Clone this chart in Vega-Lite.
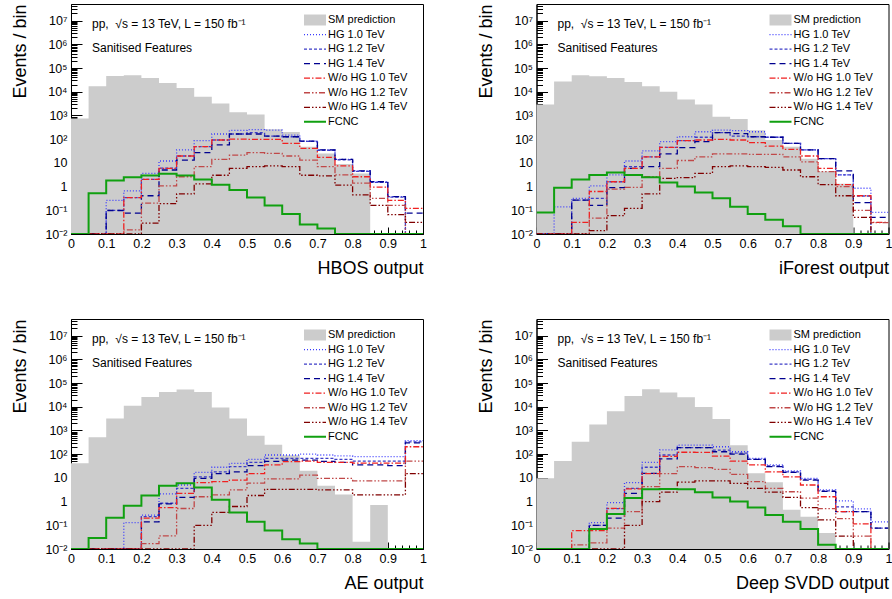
{
"$schema":"https://vega.github.io/schema/vega-lite/v6.json",
"background":"white",
"padding":{"left":11,"top":3,"right":0,"bottom":0},
"columns":2,
"spacing":{"row":85,"column":113.5},
"bounds":"flush",
"resolve":{"scale":{"color":"independent","strokeDash":"independent"},"legend":{"color":"independent"}},
"config":{
 "font":"Liberation Sans",
 "view":{"stroke":"black","strokeWidth":1},
 "axis":{"grid":false,"domainColor":"black","tickColor":"black","labelColor":"black","titleColor":"black","labelFont":"Liberation Sans","titleFont":"Liberation Sans","titleFontWeight":"normal","titleFontSize":18,"labelFontSize":12.5,"labelFlush":false,"labelOverlap":false,"labelBound":false,"domainWidth":1,"tickWidth":1},
 "legend":{"orient":"none","legendX":238.5,"legendY":10.5,"padding":0,"labelFont":"Liberation Sans","labelFontSize":11,"labelColor":"black","symbolSize":121,"labelOffset":7.5,"rowPadding":2.55},
 "title":{"anchor":"start","frame":"group","offset":-50.7,"dx":21,"font":"Liberation Sans","fontSize":12,"fontWeight":"normal","color":"black","subtitleFont":"Liberation Sans","subtitleFontSize":12,"subtitleColor":"black","subtitlePadding":11.7}
},
"datasets":{
"hbos":[
{"s":"sm","x":0,"v":750},{"s":"sm","x":0.05,"v":17000},{"s":"sm","x":0.1,"v":46000},{"s":"sm","x":0.15,"v":50000},{"s":"sm","x":0.2,"v":38000},{"s":"sm","x":0.25,"v":23500},{"s":"sm","x":0.3,"v":14500},{"s":"sm","x":0.35,"v":6100},{"s":"sm","x":0.4,"v":3200},{"s":"sm","x":0.45,"v":1350},{"s":"sm","x":0.5,"v":1100},{"s":"sm","x":0.55,"v":260},{"s":"sm","x":0.6,"v":200},{"s":"sm","x":0.65,"v":48},{"s":"sm","x":0.7,"v":25},{"s":"sm","x":0.75,"v":9},{"s":"sm","x":0.8,"v":3.6},{"s":"sm","x":0.85,"v":3.6},
{"s":"h10","x":0,"v":0.01},{"s":"h10","x":0.05,"v":0.01},{"s":"h10","x":0.1,"v":0.26},{"s":"h10","x":0.15,"v":0.66},{"s":"h10","x":0.2,"v":3.6},{"s":"h10","x":0.25,"v":12},{"s":"h10","x":0.3,"v":35},{"s":"h10","x":0.35,"v":87},{"s":"h10","x":0.4,"v":165},{"s":"h10","x":0.45,"v":235},{"s":"h10","x":0.5,"v":250},{"s":"h10","x":0.55,"v":240},{"s":"h10","x":0.6,"v":148},{"s":"h10","x":0.65,"v":83},{"s":"h10","x":0.7,"v":35},{"s":"h10","x":0.75,"v":14},{"s":"h10","x":0.8,"v":4.6},{"s":"h10","x":0.85,"v":1.6},{"s":"h10","x":0.9,"v":0.38},{"s":"h10","x":0.95,"v":0.01},{"s":"h10","x":1,"v":0.01},
{"s":"h12","x":0,"v":0.01},{"s":"h12","x":0.05,"v":0.01},{"s":"h12","x":0.1,"v":0.1},{"s":"h12","x":0.15,"v":0.34},{"s":"h12","x":0.2,"v":2.0},{"s":"h12","x":0.25,"v":6.0},{"s":"h12","x":0.3,"v":19.5},{"s":"h12","x":0.35,"v":48},{"s":"h12","x":0.4,"v":92},{"s":"h12","x":0.45,"v":165},{"s":"h12","x":0.5,"v":187},{"s":"h12","x":0.55,"v":134},{"s":"h12","x":0.6,"v":126},{"s":"h12","x":0.65,"v":80},{"s":"h12","x":0.7,"v":34},{"s":"h12","x":0.75,"v":13.5},{"s":"h12","x":0.8,"v":4.4},{"s":"h12","x":0.85,"v":1.5},{"s":"h12","x":0.9,"v":0.36},{"s":"h12","x":0.95,"v":0.01},{"s":"h12","x":1,"v":0.01},
{"s":"h14","x":0,"v":0.01},{"s":"h14","x":0.05,"v":0.01},{"s":"h14","x":0.1,"v":0.098},{"s":"h14","x":0.15,"v":0.076},{"s":"h14","x":0.2,"v":0.41},{"s":"h14","x":0.25,"v":5.0},{"s":"h14","x":0.3,"v":13},{"s":"h14","x":0.35,"v":27},{"s":"h14","x":0.4,"v":57},{"s":"h14","x":0.45,"v":165},{"s":"h14","x":0.5,"v":165},{"s":"h14","x":0.55,"v":134},{"s":"h14","x":0.6,"v":126},{"s":"h14","x":0.65,"v":83},{"s":"h14","x":0.7,"v":35},{"s":"h14","x":0.75,"v":14},{"s":"h14","x":0.8,"v":4.6},{"s":"h14","x":0.85,"v":1.6},{"s":"h14","x":0.9,"v":0.38},{"s":"h14","x":0.95,"v":0.076},{"s":"h14","x":1,"v":0.076},
{"s":"w10","x":0,"v":0.01},{"s":"w10","x":0.05,"v":0.01},{"s":"w10","x":0.1,"v":0.01},{"s":"w10","x":0.15,"v":0.34},{"s":"w10","x":0.2,"v":2.0},{"s":"w10","x":0.25,"v":5.9},{"s":"w10","x":0.3,"v":19.5},{"s":"w10","x":0.35,"v":48},{"s":"w10","x":0.4,"v":92},{"s":"w10","x":0.45,"v":100},{"s":"w10","x":0.5,"v":98},{"s":"w10","x":0.55,"v":98},{"s":"w10","x":0.6,"v":66},{"s":"w10","x":0.65,"v":41},{"s":"w10","x":0.7,"v":17},{"s":"w10","x":0.75,"v":7.4},{"s":"w10","x":0.8,"v":2.6},{"s":"w10","x":0.85,"v":0.94},{"s":"w10","x":0.9,"v":0.26},{"s":"w10","x":0.95,"v":0.12},{"s":"w10","x":1,"v":0.12},
{"s":"w12","x":0,"v":0.01},{"s":"w12","x":0.05,"v":0.01},{"s":"w12","x":0.1,"v":0.01},{"s":"w12","x":0.15,"v":0.015},{"s":"w12","x":0.2,"v":0.2},{"s":"w12","x":0.25,"v":1.07},{"s":"w12","x":0.3,"v":2.6},{"s":"w12","x":0.35,"v":7},{"s":"w12","x":0.4,"v":14},{"s":"w12","x":0.45,"v":21},{"s":"w12","x":0.5,"v":27},{"s":"w12","x":0.55,"v":25},{"s":"w12","x":0.6,"v":19.5},{"s":"w12","x":0.65,"v":13},{"s":"w12","x":0.7,"v":7},{"s":"w12","x":0.75,"v":3.1},{"s":"w12","x":0.8,"v":1.4},{"s":"w12","x":0.85,"v":0.32},{"s":"w12","x":0.9,"v":0.16},{"s":"w12","x":0.95,"v":0.01},{"s":"w12","x":1,"v":0.01},
{"s":"w14","x":0,"v":0.01},{"s":"w14","x":0.05,"v":0.01},{"s":"w14","x":0.1,"v":0.01},{"s":"w14","x":0.15,"v":0.01},{"s":"w14","x":0.2,"v":0.029},{"s":"w14","x":0.25,"v":0.19},{"s":"w14","x":0.3,"v":0.49},{"s":"w14","x":0.35,"v":1.3},{"s":"w14","x":0.4,"v":3.0},{"s":"w14","x":0.45,"v":5.9},{"s":"w14","x":0.5,"v":7},{"s":"w14","x":0.55,"v":7.4},{"s":"w14","x":0.6,"v":7},{"s":"w14","x":0.65,"v":3.0},{"s":"w14","x":0.7,"v":2.8},{"s":"w14","x":0.75,"v":1.15},{"s":"w14","x":0.8,"v":0.45},{"s":"w14","x":0.85,"v":0.16},{"s":"w14","x":0.9,"v":0.065},{"s":"w14","x":0.95,"v":0.031},{"s":"w14","x":1,"v":0.031},
{"s":"f","x":0,"v":0.01},{"s":"f","x":0.05,"v":0.52},{"s":"f","x":0.1,"v":1.8},{"s":"f","x":0.15,"v":2.5},{"s":"f","x":0.2,"v":2.9},{"s":"f","x":0.25,"v":3.5},{"s":"f","x":0.3,"v":2.9},{"s":"f","x":0.35,"v":2.0},{"s":"f","x":0.4,"v":1.2},{"s":"f","x":0.45,"v":0.72},{"s":"f","x":0.5,"v":0.35},{"s":"f","x":0.55,"v":0.16},{"s":"f","x":0.6,"v":0.07},{"s":"f","x":0.65,"v":0.025},{"s":"f","x":0.7,"v":0.017},{"s":"f","x":0.75,"v":0.01},{"s":"f","x":0.8,"v":0.01},{"s":"f","x":0.85,"v":0.01},{"s":"f","x":0.9,"v":0.01},{"s":"f","x":0.95,"v":0.01},{"s":"f","x":1,"v":0.01}
],
"iforest":[
{"s":"sm","x":0,"v":2900},{"s":"sm","x":0.05,"v":27000},{"s":"sm","x":0.1,"v":49000},{"s":"sm","x":0.15,"v":45000},{"s":"sm","x":0.2,"v":38000},{"s":"sm","x":0.25,"v":26000},{"s":"sm","x":0.3,"v":17000},{"s":"sm","x":0.35,"v":10000},{"s":"sm","x":0.4,"v":4700},{"s":"sm","x":0.45,"v":2900},{"s":"sm","x":0.5,"v":870},{"s":"sm","x":0.55,"v":700},{"s":"sm","x":0.6,"v":240},{"s":"sm","x":0.65,"v":91},{"s":"sm","x":0.7,"v":48},{"s":"sm","x":0.75,"v":15},{"s":"sm","x":0.8,"v":4.3},{"s":"sm","x":0.85,"v":1.3},{"s":"sm","x":0.9,"v":1.3},
{"s":"h10","x":0,"v":0.01},{"s":"h10","x":0.05,"v":0.14},{"s":"h10","x":0.1,"v":0.32},{"s":"h10","x":0.15,"v":1.07},{"s":"h10","x":0.2,"v":3.1},{"s":"h10","x":0.25,"v":12},{"s":"h10","x":0.3,"v":32},{"s":"h10","x":0.35,"v":78},{"s":"h10","x":0.4,"v":126},{"s":"h10","x":0.45,"v":205},{"s":"h10","x":0.5,"v":240},{"s":"h10","x":0.55,"v":230},{"s":"h10","x":0.6,"v":205},{"s":"h10","x":0.65,"v":120},{"s":"h10","x":0.7,"v":66},{"s":"h10","x":0.75,"v":35},{"s":"h10","x":0.8,"v":15},{"s":"h10","x":0.85,"v":3.1},{"s":"h10","x":0.9,"v":0.85},{"s":"h10","x":0.95,"v":0.081},{"s":"h10","x":1,"v":0.081},
{"s":"h12","x":0,"v":0.01},{"s":"h12","x":0.05,"v":0.01},{"s":"h12","x":0.1,"v":0.27},{"s":"h12","x":0.15,"v":0.32},{"s":"h12","x":0.2,"v":1.6},{"s":"h12","x":0.25,"v":7},{"s":"h12","x":0.3,"v":18},{"s":"h12","x":0.35,"v":45},{"s":"h12","x":0.4,"v":87},{"s":"h12","x":0.45,"v":120},{"s":"h12","x":0.5,"v":187},{"s":"h12","x":0.55,"v":134},{"s":"h12","x":0.6,"v":126},{"s":"h12","x":0.65,"v":120},{"s":"h12","x":0.7,"v":66},{"s":"h12","x":0.75,"v":35},{"s":"h12","x":0.8,"v":15},{"s":"h12","x":0.85,"v":3.1},{"s":"h12","x":0.9,"v":0.4},{"s":"h12","x":0.95,"v":0.01},{"s":"h12","x":1,"v":0.01},
{"s":"h14","x":0,"v":0.01},{"s":"h14","x":0.05,"v":0.01},{"s":"h14","x":0.1,"v":0.27},{"s":"h14","x":0.15,"v":0.16},{"s":"h14","x":0.2,"v":0.91},{"s":"h14","x":0.25,"v":5.9},{"s":"h14","x":0.3,"v":7},{"s":"h14","x":0.35,"v":24},{"s":"h14","x":0.4,"v":44},{"s":"h14","x":0.45,"v":78},{"s":"h14","x":0.5,"v":187},{"s":"h14","x":0.55,"v":170},{"s":"h14","x":0.6,"v":126},{"s":"h14","x":0.65,"v":120},{"s":"h14","x":0.7,"v":66},{"s":"h14","x":0.75,"v":35},{"s":"h14","x":0.8,"v":15},{"s":"h14","x":0.85,"v":4.6},{"s":"h14","x":0.9,"v":0.21},{"s":"h14","x":0.95,"v":0.05},{"s":"h14","x":1,"v":0.05},
{"s":"w10","x":0,"v":0.01},{"s":"w10","x":0.05,"v":0.01},{"s":"w10","x":0.1,"v":0.031},{"s":"w10","x":0.15,"v":0.62},{"s":"w10","x":0.2,"v":1.6},{"s":"w10","x":0.25,"v":5.9},{"s":"w10","x":0.3,"v":18},{"s":"w10","x":0.35,"v":45},{"s":"w10","x":0.4,"v":87},{"s":"w10","x":0.45,"v":92},{"s":"w10","x":0.5,"v":98},{"s":"w10","x":0.55,"v":92},{"s":"w10","x":0.6,"v":71},{"s":"w10","x":0.65,"v":51},{"s":"w10","x":0.7,"v":37},{"s":"w10","x":0.75,"v":19.5},{"s":"w10","x":0.8,"v":5.9},{"s":"w10","x":0.85,"v":1.2},{"s":"w10","x":0.9,"v":0.41},{"s":"w10","x":0.95,"v":0.031},{"s":"w10","x":1,"v":0.031},
{"s":"w12","x":0,"v":0.01},{"s":"w12","x":0.05,"v":0.01},{"s":"w12","x":0.1,"v":0.01},{"s":"w12","x":0.15,"v":0.047},{"s":"w12","x":0.2,"v":0.78},{"s":"w12","x":0.25,"v":0.93},{"s":"w12","x":0.3,"v":2.6},{"s":"w12","x":0.35,"v":5.9},{"s":"w12","x":0.4,"v":12.6},{"s":"w12","x":0.45,"v":18},{"s":"w12","x":0.5,"v":24},{"s":"w12","x":0.55,"v":24},{"s":"w12","x":0.6,"v":23},{"s":"w12","x":0.65,"v":23},{"s":"w12","x":0.7,"v":18},{"s":"w12","x":0.75,"v":11},{"s":"w12","x":0.8,"v":4.3},{"s":"w12","x":0.85,"v":1.0},{"s":"w12","x":0.9,"v":0.1},{"s":"w12","x":0.95,"v":0.03},{"s":"w12","x":1,"v":0.03},
{"s":"w14","x":0,"v":0.01},{"s":"w14","x":0.05,"v":0.01},{"s":"w14","x":0.1,"v":0.01},{"s":"w14","x":0.15,"v":0.014},{"s":"w14","x":0.2,"v":0.059},{"s":"w14","x":0.25,"v":0.12},{"s":"w14","x":0.3,"v":0.49},{"s":"w14","x":0.35,"v":2.2},{"s":"w14","x":0.4,"v":2.4},{"s":"w14","x":0.45,"v":3.6},{"s":"w14","x":0.5,"v":7},{"s":"w14","x":0.55,"v":7.4},{"s":"w14","x":0.6,"v":7},{"s":"w14","x":0.65,"v":6.5},{"s":"w14","x":0.7,"v":5},{"s":"w14","x":0.75,"v":2.6},{"s":"w14","x":0.8,"v":1.2},{"s":"w14","x":0.85,"v":0.41},{"s":"w14","x":0.9,"v":0.05},{"s":"w14","x":0.95,"v":0.01},{"s":"w14","x":1,"v":0.01},
{"s":"f","x":0,"v":0.081},{"s":"f","x":0.05,"v":0.9},{"s":"f","x":0.1,"v":2.0},{"s":"f","x":0.15,"v":3.1},{"s":"f","x":0.2,"v":3.9},{"s":"f","x":0.25,"v":3.1},{"s":"f","x":0.3,"v":2.5},{"s":"f","x":0.35,"v":1.5},{"s":"f","x":0.4,"v":1.0},{"s":"f","x":0.45,"v":0.56},{"s":"f","x":0.5,"v":0.32},{"s":"f","x":0.55,"v":0.14},{"s":"f","x":0.6,"v":0.07},{"s":"f","x":0.65,"v":0.04},{"s":"f","x":0.7,"v":0.021},{"s":"f","x":0.75,"v":0.01},{"s":"f","x":0.8,"v":0.01},{"s":"f","x":0.85,"v":0.01},{"s":"f","x":0.9,"v":0.01},{"s":"f","x":0.95,"v":0.01},{"s":"f","x":1,"v":0.01}
],
"ae":[
{"s":"sm","x":0,"v":41},{"s":"sm","x":0.05,"v":510},{"s":"sm","x":0.1,"v":3200},{"s":"sm","x":0.15,"v":11000},{"s":"sm","x":0.2,"v":26000},{"s":"sm","x":0.25,"v":42000},{"s":"sm","x":0.3,"v":53000},{"s":"sm","x":0.35,"v":42000},{"s":"sm","x":0.4,"v":9300},{"s":"sm","x":0.45,"v":3200},{"s":"sm","x":0.5,"v":600},{"s":"sm","x":0.55,"v":250},{"s":"sm","x":0.6,"v":90},{"s":"sm","x":0.65,"v":20},{"s":"sm","x":0.7,"v":4.6},{"s":"sm","x":0.75,"v":2.0},{"s":"sm","x":0.8,"v":0.02},{"s":"sm","x":0.85,"v":0.72},{"s":"sm","x":0.9,"v":0.72},
{"s":"h10","x":0,"v":0.01},{"s":"h10","x":0.05,"v":0.01},{"s":"h10","x":0.1,"v":0.01},{"s":"h10","x":0.15,"v":0.13},{"s":"h10","x":0.2,"v":0.27},{"s":"h10","x":0.25,"v":2.1},{"s":"h10","x":0.3,"v":5.0},{"s":"h10","x":0.35,"v":17},{"s":"h10","x":0.4,"v":28},{"s":"h10","x":0.45,"v":41},{"s":"h10","x":0.5,"v":60},{"s":"h10","x":0.55,"v":92},{"s":"h10","x":0.6,"v":92},{"s":"h10","x":0.65,"v":100},{"s":"h10","x":0.7,"v":92},{"s":"h10","x":0.75,"v":85},{"s":"h10","x":0.8,"v":78},{"s":"h10","x":0.85,"v":78},{"s":"h10","x":0.9,"v":78},{"s":"h10","x":0.95,"v":370},{"s":"h10","x":1,"v":370},
{"s":"h12","x":0,"v":0.01},{"s":"h12","x":0.05,"v":0.01},{"s":"h12","x":0.1,"v":0.01},{"s":"h12","x":0.15,"v":0.01},{"s":"h12","x":0.2,"v":0.23},{"s":"h12","x":0.25,"v":0.85},{"s":"h12","x":0.3,"v":3.6},{"s":"h12","x":0.35,"v":11},{"s":"h12","x":0.4,"v":18},{"s":"h12","x":0.45,"v":30},{"s":"h12","x":0.5,"v":45},{"s":"h12","x":0.55,"v":66},{"s":"h12","x":0.6,"v":66},{"s":"h12","x":0.65,"v":66},{"s":"h12","x":0.7,"v":66},{"s":"h12","x":0.75,"v":60},{"s":"h12","x":0.8,"v":51},{"s":"h12","x":0.85,"v":51},{"s":"h12","x":0.9,"v":51},{"s":"h12","x":0.95,"v":330},{"s":"h12","x":1,"v":330},
{"s":"h14","x":0,"v":0.01},{"s":"h14","x":0.05,"v":0.01},{"s":"h14","x":0.1,"v":0.01},{"s":"h14","x":0.15,"v":0.01},{"s":"h14","x":0.2,"v":0.14},{"s":"h14","x":0.25,"v":0.8},{"s":"h14","x":0.3,"v":1.5},{"s":"h14","x":0.35,"v":9.5},{"s":"h14","x":0.4,"v":15},{"s":"h14","x":0.45,"v":18},{"s":"h14","x":0.5,"v":33},{"s":"h14","x":0.55,"v":50},{"s":"h14","x":0.6,"v":56},{"s":"h14","x":0.65,"v":56},{"s":"h14","x":0.7,"v":50},{"s":"h14","x":0.75,"v":45},{"s":"h14","x":0.8,"v":35},{"s":"h14","x":0.85,"v":35},{"s":"h14","x":0.9,"v":33},{"s":"h14","x":0.95,"v":300},{"s":"h14","x":1,"v":300},
{"s":"w10","x":0,"v":0.01},{"s":"w10","x":0.05,"v":0.01},{"s":"w10","x":0.1,"v":0.01},{"s":"w10","x":0.15,"v":0.01},{"s":"w10","x":0.2,"v":0.2},{"s":"w10","x":0.25,"v":0.56},{"s":"w10","x":0.3,"v":2.2},{"s":"w10","x":0.35,"v":6.3},{"s":"w10","x":0.4,"v":6.9},{"s":"w10","x":0.45,"v":8.1},{"s":"w10","x":0.5,"v":15},{"s":"w10","x":0.55,"v":35},{"s":"w10","x":0.6,"v":48},{"s":"w10","x":0.65,"v":51},{"s":"w10","x":0.7,"v":45},{"s":"w10","x":0.75,"v":45},{"s":"w10","x":0.8,"v":42},{"s":"w10","x":0.85,"v":42},{"s":"w10","x":0.9,"v":42},{"s":"w10","x":0.95,"v":205},{"s":"w10","x":1,"v":205},
{"s":"w12","x":0,"v":0.01},{"s":"w12","x":0.05,"v":0.01},{"s":"w12","x":0.1,"v":0.01},{"s":"w12","x":0.15,"v":0.01},{"s":"w12","x":0.2,"v":0.017},{"s":"w12","x":0.25,"v":0.036},{"s":"w12","x":0.3,"v":0.51},{"s":"w12","x":0.35,"v":1.6},{"s":"w12","x":0.4,"v":1.9},{"s":"w12","x":0.45,"v":3.1},{"s":"w12","x":0.5,"v":6.0},{"s":"w12","x":0.55,"v":9.1},{"s":"w12","x":0.6,"v":9.1},{"s":"w12","x":0.65,"v":13},{"s":"w12","x":0.7,"v":9.6},{"s":"w12","x":0.75,"v":9.6},{"s":"w12","x":0.8,"v":7.4},{"s":"w12","x":0.85,"v":7.4},{"s":"w12","x":0.9,"v":7.4},{"s":"w12","x":0.95,"v":51},{"s":"w12","x":1,"v":51},
{"s":"w14","x":0,"v":0.01},{"s":"w14","x":0.05,"v":0.01},{"s":"w14","x":0.1,"v":0.01},{"s":"w14","x":0.15,"v":0.01},{"s":"w14","x":0.2,"v":0.01},{"s":"w14","x":0.25,"v":0.01},{"s":"w14","x":0.3,"v":0.01},{"s":"w14","x":0.35,"v":0.1},{"s":"w14","x":0.4,"v":0.35},{"s":"w14","x":0.45,"v":0.62},{"s":"w14","x":0.5,"v":1.8},{"s":"w14","x":0.55,"v":3.3},{"s":"w14","x":0.6,"v":3.3},{"s":"w14","x":0.65,"v":3.3},{"s":"w14","x":0.7,"v":3.1},{"s":"w14","x":0.75,"v":3.1},{"s":"w14","x":0.8,"v":1.9},{"s":"w14","x":0.85,"v":1.9},{"s":"w14","x":0.9,"v":1.9},{"s":"w14","x":0.95,"v":15},{"s":"w14","x":1,"v":15},
{"s":"f","x":0,"v":0.01},{"s":"f","x":0.05,"v":0.029},{"s":"f","x":0.1,"v":0.21},{"s":"f","x":0.15,"v":0.66},{"s":"f","x":0.2,"v":1.8},{"s":"f","x":0.25,"v":4.6},{"s":"f","x":0.3,"v":5.9},{"s":"f","x":0.35,"v":3.9},{"s":"f","x":0.4,"v":1.2},{"s":"f","x":0.45,"v":0.35},{"s":"f","x":0.5,"v":0.14},{"s":"f","x":0.55,"v":0.06},{"s":"f","x":0.6,"v":0.026},{"s":"f","x":0.65,"v":0.017},{"s":"f","x":0.7,"v":0.01},{"s":"f","x":0.75,"v":0.01},{"s":"f","x":0.8,"v":0.01},{"s":"f","x":0.85,"v":0.01},{"s":"f","x":0.9,"v":0.01},{"s":"f","x":0.95,"v":0.01},{"s":"f","x":1,"v":0.01}
],
"svdd":[
{"s":"sm","x":0,"v":9.6},{"s":"sm","x":0.05,"v":51},{"s":"sm","x":0.1,"v":330},{"s":"sm","x":0.15,"v":1800},{"s":"sm","x":0.2,"v":6500},{"s":"sm","x":0.25,"v":28500},{"s":"sm","x":0.3,"v":55000},{"s":"sm","x":0.35,"v":40000},{"s":"sm","x":0.4,"v":25000},{"s":"sm","x":0.45,"v":9800},{"s":"sm","x":0.5,"v":3000},{"s":"sm","x":0.55,"v":240},{"s":"sm","x":0.6,"v":15.6},{"s":"sm","x":0.65,"v":6.6},{"s":"sm","x":0.7,"v":0.45},{"s":"sm","x":0.75,"v":0.23},{"s":"sm","x":0.8,"v":0.047},{"s":"sm","x":0.85,"v":0.047},
{"s":"h10","x":0,"v":0.01},{"s":"h10","x":0.05,"v":0.01},{"s":"h10","x":0.1,"v":0.01},{"s":"h10","x":0.15,"v":0.13},{"s":"h10","x":0.2,"v":0.91},{"s":"h10","x":0.25,"v":6.3},{"s":"h10","x":0.3,"v":45},{"s":"h10","x":0.35,"v":150},{"s":"h10","x":0.4,"v":240},{"s":"h10","x":0.45,"v":240},{"s":"h10","x":0.5,"v":205},{"s":"h10","x":0.55,"v":126},{"s":"h10","x":0.6,"v":66},{"s":"h10","x":0.65,"v":35},{"s":"h10","x":0.7,"v":19.5},{"s":"h10","x":0.75,"v":9.6},{"s":"h10","x":0.8,"v":3.1},{"s":"h10","x":0.85,"v":1.07},{"s":"h10","x":0.9,"v":0.49},{"s":"h10","x":0.95,"v":0.14},{"s":"h10","x":1,"v":0.14},
{"s":"h12","x":0,"v":0.01},{"s":"h12","x":0.05,"v":0.01},{"s":"h12","x":0.1,"v":0.01},{"s":"h12","x":0.15,"v":0.1},{"s":"h12","x":0.2,"v":0.5},{"s":"h12","x":0.25,"v":3.6},{"s":"h12","x":0.3,"v":28},{"s":"h12","x":0.35,"v":92},{"s":"h12","x":0.4,"v":187},{"s":"h12","x":0.45,"v":187},{"s":"h12","x":0.5,"v":148},{"s":"h12","x":0.55,"v":110},{"s":"h12","x":0.6,"v":60},{"s":"h12","x":0.65,"v":32},{"s":"h12","x":0.7,"v":18},{"s":"h12","x":0.75,"v":8.7},{"s":"h12","x":0.8,"v":2.8},{"s":"h12","x":0.85,"v":0.6},{"s":"h12","x":0.9,"v":0.38},{"s":"h12","x":0.95,"v":0.076},{"s":"h12","x":1,"v":0.076},
{"s":"h14","x":0,"v":0.01},{"s":"h14","x":0.05,"v":0.01},{"s":"h14","x":0.1,"v":0.01},{"s":"h14","x":0.15,"v":0.1},{"s":"h14","x":0.2,"v":0.2},{"s":"h14","x":0.25,"v":2.2},{"s":"h14","x":0.3,"v":15.5},{"s":"h14","x":0.35,"v":63},{"s":"h14","x":0.4,"v":187},{"s":"h14","x":0.45,"v":187},{"s":"h14","x":0.5,"v":126},{"s":"h14","x":0.55,"v":100},{"s":"h14","x":0.6,"v":60},{"s":"h14","x":0.65,"v":30},{"s":"h14","x":0.7,"v":17},{"s":"h14","x":0.75,"v":8},{"s":"h14","x":0.8,"v":2.7},{"s":"h14","x":0.85,"v":0.38},{"s":"h14","x":0.9,"v":0.38},{"s":"h14","x":0.95,"v":0.076},{"s":"h14","x":1,"v":0.076},
{"s":"w10","x":0,"v":0.01},{"s":"w10","x":0.05,"v":0.01},{"s":"w10","x":0.1,"v":0.059},{"s":"w10","x":0.15,"v":0.059},{"s":"w10","x":0.2,"v":0.52},{"s":"w10","x":0.25,"v":3.4},{"s":"w10","x":0.3,"v":15},{"s":"w10","x":0.35,"v":80},{"s":"w10","x":0.4,"v":120},{"s":"w10","x":0.45,"v":118},{"s":"w10","x":0.5,"v":83},{"s":"w10","x":0.55,"v":51},{"s":"w10","x":0.6,"v":35},{"s":"w10","x":0.65,"v":18},{"s":"w10","x":0.7,"v":11},{"s":"w10","x":0.75,"v":5},{"s":"w10","x":0.8,"v":1.6},{"s":"w10","x":0.85,"v":0.38},{"s":"w10","x":0.9,"v":0.115},{"s":"w10","x":0.95,"v":0.01},{"s":"w10","x":1,"v":0.01},
{"s":"w12","x":0,"v":0.01},{"s":"w12","x":0.05,"v":0.01},{"s":"w12","x":0.1,"v":0.015},{"s":"w12","x":0.15,"v":0.018},{"s":"w12","x":0.2,"v":0.076},{"s":"w12","x":0.25,"v":0.38},{"s":"w12","x":0.3,"v":4.3},{"s":"w12","x":0.35,"v":15},{"s":"w12","x":0.4,"v":30},{"s":"w12","x":0.45,"v":27},{"s":"w12","x":0.5,"v":23},{"s":"w12","x":0.55,"v":14},{"s":"w12","x":0.6,"v":7},{"s":"w12","x":0.65,"v":3.6},{"s":"w12","x":0.7,"v":2.6},{"s":"w12","x":0.75,"v":1.4},{"s":"w12","x":0.8,"v":0.5},{"s":"w12","x":0.85,"v":0.19},{"s":"w12","x":0.9,"v":0.035},{"s":"w12","x":0.95,"v":0.01},{"s":"w12","x":1,"v":0.01},
{"s":"w14","x":0,"v":0.01},{"s":"w14","x":0.05,"v":0.01},{"s":"w14","x":0.1,"v":0.01},{"s":"w14","x":0.15,"v":0.01},{"s":"w14","x":0.2,"v":0.01},{"s":"w14","x":0.25,"v":0.1},{"s":"w14","x":0.3,"v":1.0},{"s":"w14","x":0.35,"v":2.5},{"s":"w14","x":0.4,"v":6.6},{"s":"w14","x":0.45,"v":7.4},{"s":"w14","x":0.5,"v":7.4},{"s":"w14","x":0.55,"v":5.9},{"s":"w14","x":0.6,"v":3.6},{"s":"w14","x":0.65,"v":2.5},{"s":"w14","x":0.7,"v":1.5},{"s":"w14","x":0.75,"v":0.56},{"s":"w14","x":0.8,"v":0.17},{"s":"w14","x":0.85,"v":0.035},{"s":"w14","x":0.9,"v":0.01},{"s":"w14","x":0.95,"v":0.01},{"s":"w14","x":1,"v":0.01},
{"s":"f","x":0,"v":0.01},{"s":"f","x":0.05,"v":0.01},{"s":"f","x":0.1,"v":0.01},{"s":"f","x":0.15,"v":0.07},{"s":"f","x":0.2,"v":0.3},{"s":"f","x":0.25,"v":1.4},{"s":"f","x":0.3,"v":3.3},{"s":"f","x":0.35,"v":3.4},{"s":"f","x":0.4,"v":3.3},{"s":"f","x":0.45,"v":2.5},{"s":"f","x":0.5,"v":1.5},{"s":"f","x":0.55,"v":1.0},{"s":"f","x":0.6,"v":0.56},{"s":"f","x":0.65,"v":0.27},{"s":"f","x":0.7,"v":0.14},{"s":"f","x":0.75,"v":0.07},{"s":"f","x":0.8,"v":0.015},{"s":"f","x":0.85,"v":0.01},{"s":"f","x":0.9,"v":0.01},{"s":"f","x":0.95,"v":0.01},{"s":"f","x":1,"v":0.01}
]
},
"concat":[
{"width":352,"height":230,"data":{"name":"hbos"},
 "title":{"text":"pp,\u00a0 √s = 13 TeV, L = 150 fb⁻¹","subtitle":"Sanitised Features"},
 "resolve":{"axis":{"x":"independent","y":"independent"}},
 "layer":[
  {"transform":[{"filter":"datum.s == 'sm'"}],
   "mark":{"type":"area","interpolate":"step-after","strokeWidth":0},
   "encoding":{
    "x":{"field":"x","type":"quantitative","scale":{"domain":[0,1],"nice":false,"zero":false},
      "axis":{"orient":"bottom","values":[0,0.1,0.2,0.3,0.4,0.5,0.6,0.7,0.8,0.9,1],"title":"HBOS output","titleX":352,"titleY":39,"titleAlign":"right","titleAnchor":"end","titleBaseline":"alphabetic","titleAngle":0,
       "labelExpr":"datum.value==0 ? '0' : datum.value==1 ? '1' : format(datum.value,'.1f')","tickSize":-7,"labelPadding":10}},
    "y":{"field":"v","type":"quantitative","scale":{"type":"log","domain":[0.01,50000000],"nice":false},
      "axis":{"orient":"left","values":[0.01,0.1,1,10,100,1000,10000,100000,1000000,10000000],"title":"Events / bin","titleX":-45.5,"titleY":0,"titleAlign":"right","titleAngle":270,"titleBaseline":"alphabetic",
       "labelExpr":"datum.value==0.01 ? '10⁻²' : datum.value==0.1 ? '10⁻¹' : datum.value==1 ? '1' : datum.value==10 ? '10' : datum.value==100 ? '10²' : datum.value==1000 ? '10³' : datum.value==10000 ? '10⁴' : datum.value==100000 ? '10⁵' : datum.value==1000000 ? '10⁶' : '10⁷'","tickSize":-11,"labelPadding":15}},
    "y2":{"datum":0.01},
    "color":{"field":"s","type":"nominal","scale":{"domain":["sm","h10","h12","h14","w10","w12","w14","f"],"range":["#cccccc","#3b3bff","#3d3dc8","#000090","#f02020","#c04848","#800000","#10a010"]},
      "legend":{"title":null,
       "labelExpr":"{'sm':'SM prediction','h10':'HG 1.0 TeV','h12':'HG 1.2 TeV','h14':'HG 1.4 TeV','w10':'W/o HG 1.0 TeV','w12':'W/o HG 1.2 TeV','w14':'W/o HG 1.4 TeV','f':'FCNC'}[datum.value]",
       "encode":{"symbols":{"update":{
        "shape":{"signal":"datum.value=='sm' ? 'M-2,-1H2V1H-2Z' : 'M-2,0H2'"},
        "fill":{"signal":"datum.value=='sm' ? '#cccccc' : 'transparent'"},
        "stroke":{"signal":"datum.value=='h10'?'#3b3bff':datum.value=='h12'?'#3d3dc8':datum.value=='h14'?'#000090':datum.value=='w10'?'#f02020':datum.value=='w12'?'#c04848':datum.value=='w14'?'#800000':datum.value=='f'?'#10a010':'#cccccc'"},
        "strokeWidth":{"signal":"datum.value=='sm' ? 0 : datum.value=='f' ? 2 : 1.3"},
        "strokeDash":{"signal":"datum.value=='h10'?[1,2]:datum.value=='h12'?[3,2]:datum.value=='h14'?[6,4]:datum.value=='w10'?[6,2,1.5,2]:datum.value=='w12'?[6,2,1.5,2,1.5,2]:datum.value=='w14'?[6,2,1.5,2,1.5,2,1.5,2]:[1,0]"},
        "opacity":{"value":1}}}}}}
   }},
  {"transform":[{"filter":"datum.s != 'sm'"}],
   "mark":{"type":"line","interpolate":"step-after","clip":true},
   "encoding":{
    "x":{"field":"x","type":"quantitative","scale":{"domain":[0,1],"nice":false,"zero":false},
      "axis":{"orient":"bottom","values":[0.02,0.04,0.06,0.08,0.12,0.14,0.16,0.18,0.22,0.24,0.26,0.28,0.32,0.34,0.36,0.38,0.42,0.44,0.46,0.48,0.52,0.54,0.56,0.58,0.62,0.64,0.66,0.68,0.72,0.74,0.76,0.78,0.82,0.84,0.86,0.88,0.92,0.94,0.96,0.98],"labels":false,"domain":false,"title":null,"tickSize":-4}},
    "y":{"field":"v","type":"quantitative","scale":{"type":"log","domain":[0.01,50000000],"nice":false},
      "axis":{"orient":"left","values":[0.02,0.03,0.04,0.05,0.06,0.07,0.08,0.09,0.2,0.3,0.4,0.5,0.6,0.7,0.8,0.9,2,3,4,5,6,7,8,9,20,30,40,50,60,70,80,90,200,300,400,500,600,700,800,900,2000,3000,4000,5000,6000,7000,8000,9000,20000,30000,40000,50000,60000,70000,80000,90000,200000,300000,400000,500000,600000,700000,800000,900000,2000000,3000000,4000000,5000000,6000000,7000000,8000000,9000000,20000000,30000000,40000000],"labels":false,"domain":false,"title":null,"tickSize":-6}},
    "color":{"field":"s","type":"nominal"},
    "strokeDash":{"field":"s","type":"nominal","scale":{"domain":["h10","h12","h14","w10","w12","w14","f"],"range":[[1,2],[3,2],[6,4],[6,2,1.5,2],[6,2,1.5,2,1.5,2],[6,2,1.5,2,1.5,2,1.5,2],[1,0]]},"legend":null},
    "strokeWidth":{"condition":{"test":"datum.s=='f'","value":2},"value":1.3}
   }}
 ]},
{"width":352,"height":230,"data":{"name":"iforest"},
 "title":{"text":"pp,\u00a0 √s = 13 TeV, L = 150 fb⁻¹","subtitle":"Sanitised Features"},
 "resolve":{"axis":{"x":"independent","y":"independent"}},
 "layer":[
  {"transform":[{"filter":"datum.s == 'sm'"}],
   "mark":{"type":"area","interpolate":"step-after","strokeWidth":0},
   "encoding":{
    "x":{"field":"x","type":"quantitative","scale":{"domain":[0,1],"nice":false,"zero":false},
      "axis":{"orient":"bottom","values":[0,0.1,0.2,0.3,0.4,0.5,0.6,0.7,0.8,0.9,1],"title":"iForest output","titleX":352,"titleY":39,"titleAlign":"right","titleAnchor":"end","titleBaseline":"alphabetic","titleAngle":0,
       "labelExpr":"datum.value==0 ? '0' : datum.value==1 ? '1' : format(datum.value,'.1f')","tickSize":-7,"labelPadding":10}},
    "y":{"field":"v","type":"quantitative","scale":{"type":"log","domain":[0.01,50000000],"nice":false},
      "axis":{"orient":"left","values":[0.01,0.1,1,10,100,1000,10000,100000,1000000,10000000],"title":"Events / bin","titleX":-45.5,"titleY":0,"titleAlign":"right","titleAngle":270,"titleBaseline":"alphabetic",
       "labelExpr":"datum.value==0.01 ? '10⁻²' : datum.value==0.1 ? '10⁻¹' : datum.value==1 ? '1' : datum.value==10 ? '10' : datum.value==100 ? '10²' : datum.value==1000 ? '10³' : datum.value==10000 ? '10⁴' : datum.value==100000 ? '10⁵' : datum.value==1000000 ? '10⁶' : '10⁷'","tickSize":-11,"labelPadding":15}},
    "y2":{"datum":0.01},
    "color":{"field":"s","type":"nominal","scale":{"domain":["sm","h10","h12","h14","w10","w12","w14","f"],"range":["#cccccc","#3b3bff","#3d3dc8","#000090","#f02020","#c04848","#800000","#10a010"]},
      "legend":{"title":null,
       "labelExpr":"{'sm':'SM prediction','h10':'HG 1.0 TeV','h12':'HG 1.2 TeV','h14':'HG 1.4 TeV','w10':'W/o HG 1.0 TeV','w12':'W/o HG 1.2 TeV','w14':'W/o HG 1.4 TeV','f':'FCNC'}[datum.value]",
       "encode":{"symbols":{"update":{
        "shape":{"signal":"datum.value=='sm' ? 'M-2,-1H2V1H-2Z' : 'M-2,0H2'"},
        "fill":{"signal":"datum.value=='sm' ? '#cccccc' : 'transparent'"},
        "stroke":{"signal":"datum.value=='h10'?'#3b3bff':datum.value=='h12'?'#3d3dc8':datum.value=='h14'?'#000090':datum.value=='w10'?'#f02020':datum.value=='w12'?'#c04848':datum.value=='w14'?'#800000':datum.value=='f'?'#10a010':'#cccccc'"},
        "strokeWidth":{"signal":"datum.value=='sm' ? 0 : datum.value=='f' ? 2 : 1.3"},
        "strokeDash":{"signal":"datum.value=='h10'?[1,2]:datum.value=='h12'?[3,2]:datum.value=='h14'?[6,4]:datum.value=='w10'?[6,2,1.5,2]:datum.value=='w12'?[6,2,1.5,2,1.5,2]:datum.value=='w14'?[6,2,1.5,2,1.5,2,1.5,2]:[1,0]"},
        "opacity":{"value":1}}}}}}
   }},
  {"transform":[{"filter":"datum.s != 'sm'"}],
   "mark":{"type":"line","interpolate":"step-after","clip":true},
   "encoding":{
    "x":{"field":"x","type":"quantitative","scale":{"domain":[0,1],"nice":false,"zero":false},
      "axis":{"orient":"bottom","values":[0.02,0.04,0.06,0.08,0.12,0.14,0.16,0.18,0.22,0.24,0.26,0.28,0.32,0.34,0.36,0.38,0.42,0.44,0.46,0.48,0.52,0.54,0.56,0.58,0.62,0.64,0.66,0.68,0.72,0.74,0.76,0.78,0.82,0.84,0.86,0.88,0.92,0.94,0.96,0.98],"labels":false,"domain":false,"title":null,"tickSize":-4}},
    "y":{"field":"v","type":"quantitative","scale":{"type":"log","domain":[0.01,50000000],"nice":false},
      "axis":{"orient":"left","values":[0.02,0.03,0.04,0.05,0.06,0.07,0.08,0.09,0.2,0.3,0.4,0.5,0.6,0.7,0.8,0.9,2,3,4,5,6,7,8,9,20,30,40,50,60,70,80,90,200,300,400,500,600,700,800,900,2000,3000,4000,5000,6000,7000,8000,9000,20000,30000,40000,50000,60000,70000,80000,90000,200000,300000,400000,500000,600000,700000,800000,900000,2000000,3000000,4000000,5000000,6000000,7000000,8000000,9000000,20000000,30000000,40000000],"labels":false,"domain":false,"title":null,"tickSize":-6}},
    "color":{"field":"s","type":"nominal"},
    "strokeDash":{"field":"s","type":"nominal","scale":{"domain":["h10","h12","h14","w10","w12","w14","f"],"range":[[1,2],[3,2],[6,4],[6,2,1.5,2],[6,2,1.5,2,1.5,2],[6,2,1.5,2,1.5,2,1.5,2],[1,0]]},"legend":null},
    "strokeWidth":{"condition":{"test":"datum.s=='f'","value":2},"value":1.3}
   }}
 ]},
{"width":352,"height":230,"data":{"name":"ae"},
 "title":{"text":"pp,\u00a0 √s = 13 TeV, L = 150 fb⁻¹","subtitle":"Sanitised Features"},
 "resolve":{"axis":{"x":"independent","y":"independent"}},
 "layer":[
  {"transform":[{"filter":"datum.s == 'sm'"}],
   "mark":{"type":"area","interpolate":"step-after","strokeWidth":0},
   "encoding":{
    "x":{"field":"x","type":"quantitative","scale":{"domain":[0,1],"nice":false,"zero":false},
      "axis":{"orient":"bottom","values":[0,0.1,0.2,0.3,0.4,0.5,0.6,0.7,0.8,0.9,1],"title":"AE output","titleX":352,"titleY":39,"titleAlign":"right","titleAnchor":"end","titleBaseline":"alphabetic","titleAngle":0,
       "labelExpr":"datum.value==0 ? '0' : datum.value==1 ? '1' : format(datum.value,'.1f')","tickSize":-7,"labelPadding":10}},
    "y":{"field":"v","type":"quantitative","scale":{"type":"log","domain":[0.01,50000000],"nice":false},
      "axis":{"orient":"left","values":[0.01,0.1,1,10,100,1000,10000,100000,1000000,10000000],"title":"Events / bin","titleX":-45.5,"titleY":0,"titleAlign":"right","titleAngle":270,"titleBaseline":"alphabetic",
       "labelExpr":"datum.value==0.01 ? '10⁻²' : datum.value==0.1 ? '10⁻¹' : datum.value==1 ? '1' : datum.value==10 ? '10' : datum.value==100 ? '10²' : datum.value==1000 ? '10³' : datum.value==10000 ? '10⁴' : datum.value==100000 ? '10⁵' : datum.value==1000000 ? '10⁶' : '10⁷'","tickSize":-11,"labelPadding":15}},
    "y2":{"datum":0.01},
    "color":{"field":"s","type":"nominal","scale":{"domain":["sm","h10","h12","h14","w10","w12","w14","f"],"range":["#cccccc","#3b3bff","#3d3dc8","#000090","#f02020","#c04848","#800000","#10a010"]},
      "legend":{"title":null,
       "labelExpr":"{'sm':'SM prediction','h10':'HG 1.0 TeV','h12':'HG 1.2 TeV','h14':'HG 1.4 TeV','w10':'W/o HG 1.0 TeV','w12':'W/o HG 1.2 TeV','w14':'W/o HG 1.4 TeV','f':'FCNC'}[datum.value]",
       "encode":{"symbols":{"update":{
        "shape":{"signal":"datum.value=='sm' ? 'M-2,-1H2V1H-2Z' : 'M-2,0H2'"},
        "fill":{"signal":"datum.value=='sm' ? '#cccccc' : 'transparent'"},
        "stroke":{"signal":"datum.value=='h10'?'#3b3bff':datum.value=='h12'?'#3d3dc8':datum.value=='h14'?'#000090':datum.value=='w10'?'#f02020':datum.value=='w12'?'#c04848':datum.value=='w14'?'#800000':datum.value=='f'?'#10a010':'#cccccc'"},
        "strokeWidth":{"signal":"datum.value=='sm' ? 0 : datum.value=='f' ? 2 : 1.3"},
        "strokeDash":{"signal":"datum.value=='h10'?[1,2]:datum.value=='h12'?[3,2]:datum.value=='h14'?[6,4]:datum.value=='w10'?[6,2,1.5,2]:datum.value=='w12'?[6,2,1.5,2,1.5,2]:datum.value=='w14'?[6,2,1.5,2,1.5,2,1.5,2]:[1,0]"},
        "opacity":{"value":1}}}}}}
   }},
  {"transform":[{"filter":"datum.s != 'sm'"}],
   "mark":{"type":"line","interpolate":"step-after","clip":true},
   "encoding":{
    "x":{"field":"x","type":"quantitative","scale":{"domain":[0,1],"nice":false,"zero":false},
      "axis":{"orient":"bottom","values":[0.02,0.04,0.06,0.08,0.12,0.14,0.16,0.18,0.22,0.24,0.26,0.28,0.32,0.34,0.36,0.38,0.42,0.44,0.46,0.48,0.52,0.54,0.56,0.58,0.62,0.64,0.66,0.68,0.72,0.74,0.76,0.78,0.82,0.84,0.86,0.88,0.92,0.94,0.96,0.98],"labels":false,"domain":false,"title":null,"tickSize":-4}},
    "y":{"field":"v","type":"quantitative","scale":{"type":"log","domain":[0.01,50000000],"nice":false},
      "axis":{"orient":"left","values":[0.02,0.03,0.04,0.05,0.06,0.07,0.08,0.09,0.2,0.3,0.4,0.5,0.6,0.7,0.8,0.9,2,3,4,5,6,7,8,9,20,30,40,50,60,70,80,90,200,300,400,500,600,700,800,900,2000,3000,4000,5000,6000,7000,8000,9000,20000,30000,40000,50000,60000,70000,80000,90000,200000,300000,400000,500000,600000,700000,800000,900000,2000000,3000000,4000000,5000000,6000000,7000000,8000000,9000000,20000000,30000000,40000000],"labels":false,"domain":false,"title":null,"tickSize":-6}},
    "color":{"field":"s","type":"nominal"},
    "strokeDash":{"field":"s","type":"nominal","scale":{"domain":["h10","h12","h14","w10","w12","w14","f"],"range":[[1,2],[3,2],[6,4],[6,2,1.5,2],[6,2,1.5,2,1.5,2],[6,2,1.5,2,1.5,2,1.5,2],[1,0]]},"legend":null},
    "strokeWidth":{"condition":{"test":"datum.s=='f'","value":2},"value":1.3}
   }}
 ]},
{"width":352,"height":230,"data":{"name":"svdd"},
 "title":{"text":"pp,\u00a0 √s = 13 TeV, L = 150 fb⁻¹","subtitle":"Sanitised Features"},
 "resolve":{"axis":{"x":"independent","y":"independent"}},
 "layer":[
  {"transform":[{"filter":"datum.s == 'sm'"}],
   "mark":{"type":"area","interpolate":"step-after","strokeWidth":0},
   "encoding":{
    "x":{"field":"x","type":"quantitative","scale":{"domain":[0,1],"nice":false,"zero":false},
      "axis":{"orient":"bottom","values":[0,0.1,0.2,0.3,0.4,0.5,0.6,0.7,0.8,0.9,1],"title":"Deep SVDD output","titleX":352,"titleY":39,"titleAlign":"right","titleAnchor":"end","titleBaseline":"alphabetic","titleAngle":0,
       "labelExpr":"datum.value==0 ? '0' : datum.value==1 ? '1' : format(datum.value,'.1f')","tickSize":-7,"labelPadding":10}},
    "y":{"field":"v","type":"quantitative","scale":{"type":"log","domain":[0.01,50000000],"nice":false},
      "axis":{"orient":"left","values":[0.01,0.1,1,10,100,1000,10000,100000,1000000,10000000],"title":"Events / bin","titleX":-45.5,"titleY":0,"titleAlign":"right","titleAngle":270,"titleBaseline":"alphabetic",
       "labelExpr":"datum.value==0.01 ? '10⁻²' : datum.value==0.1 ? '10⁻¹' : datum.value==1 ? '1' : datum.value==10 ? '10' : datum.value==100 ? '10²' : datum.value==1000 ? '10³' : datum.value==10000 ? '10⁴' : datum.value==100000 ? '10⁵' : datum.value==1000000 ? '10⁶' : '10⁷'","tickSize":-11,"labelPadding":15}},
    "y2":{"datum":0.01},
    "color":{"field":"s","type":"nominal","scale":{"domain":["sm","h10","h12","h14","w10","w12","w14","f"],"range":["#cccccc","#3b3bff","#3d3dc8","#000090","#f02020","#c04848","#800000","#10a010"]},
      "legend":{"title":null,
       "labelExpr":"{'sm':'SM prediction','h10':'HG 1.0 TeV','h12':'HG 1.2 TeV','h14':'HG 1.4 TeV','w10':'W/o HG 1.0 TeV','w12':'W/o HG 1.2 TeV','w14':'W/o HG 1.4 TeV','f':'FCNC'}[datum.value]",
       "encode":{"symbols":{"update":{
        "shape":{"signal":"datum.value=='sm' ? 'M-2,-1H2V1H-2Z' : 'M-2,0H2'"},
        "fill":{"signal":"datum.value=='sm' ? '#cccccc' : 'transparent'"},
        "stroke":{"signal":"datum.value=='h10'?'#3b3bff':datum.value=='h12'?'#3d3dc8':datum.value=='h14'?'#000090':datum.value=='w10'?'#f02020':datum.value=='w12'?'#c04848':datum.value=='w14'?'#800000':datum.value=='f'?'#10a010':'#cccccc'"},
        "strokeWidth":{"signal":"datum.value=='sm' ? 0 : datum.value=='f' ? 2 : 1.3"},
        "strokeDash":{"signal":"datum.value=='h10'?[1,2]:datum.value=='h12'?[3,2]:datum.value=='h14'?[6,4]:datum.value=='w10'?[6,2,1.5,2]:datum.value=='w12'?[6,2,1.5,2,1.5,2]:datum.value=='w14'?[6,2,1.5,2,1.5,2,1.5,2]:[1,0]"},
        "opacity":{"value":1}}}}}}
   }},
  {"transform":[{"filter":"datum.s != 'sm'"}],
   "mark":{"type":"line","interpolate":"step-after","clip":true},
   "encoding":{
    "x":{"field":"x","type":"quantitative","scale":{"domain":[0,1],"nice":false,"zero":false},
      "axis":{"orient":"bottom","values":[0.02,0.04,0.06,0.08,0.12,0.14,0.16,0.18,0.22,0.24,0.26,0.28,0.32,0.34,0.36,0.38,0.42,0.44,0.46,0.48,0.52,0.54,0.56,0.58,0.62,0.64,0.66,0.68,0.72,0.74,0.76,0.78,0.82,0.84,0.86,0.88,0.92,0.94,0.96,0.98],"labels":false,"domain":false,"title":null,"tickSize":-4}},
    "y":{"field":"v","type":"quantitative","scale":{"type":"log","domain":[0.01,50000000],"nice":false},
      "axis":{"orient":"left","values":[0.02,0.03,0.04,0.05,0.06,0.07,0.08,0.09,0.2,0.3,0.4,0.5,0.6,0.7,0.8,0.9,2,3,4,5,6,7,8,9,20,30,40,50,60,70,80,90,200,300,400,500,600,700,800,900,2000,3000,4000,5000,6000,7000,8000,9000,20000,30000,40000,50000,60000,70000,80000,90000,200000,300000,400000,500000,600000,700000,800000,900000,2000000,3000000,4000000,5000000,6000000,7000000,8000000,9000000,20000000,30000000,40000000],"labels":false,"domain":false,"title":null,"tickSize":-6}},
    "color":{"field":"s","type":"nominal"},
    "strokeDash":{"field":"s","type":"nominal","scale":{"domain":["h10","h12","h14","w10","w12","w14","f"],"range":[[1,2],[3,2],[6,4],[6,2,1.5,2],[6,2,1.5,2,1.5,2],[6,2,1.5,2,1.5,2,1.5,2],[1,0]]},"legend":null},
    "strokeWidth":{"condition":{"test":"datum.s=='f'","value":2},"value":1.3}
   }}
 ]}
]
}
